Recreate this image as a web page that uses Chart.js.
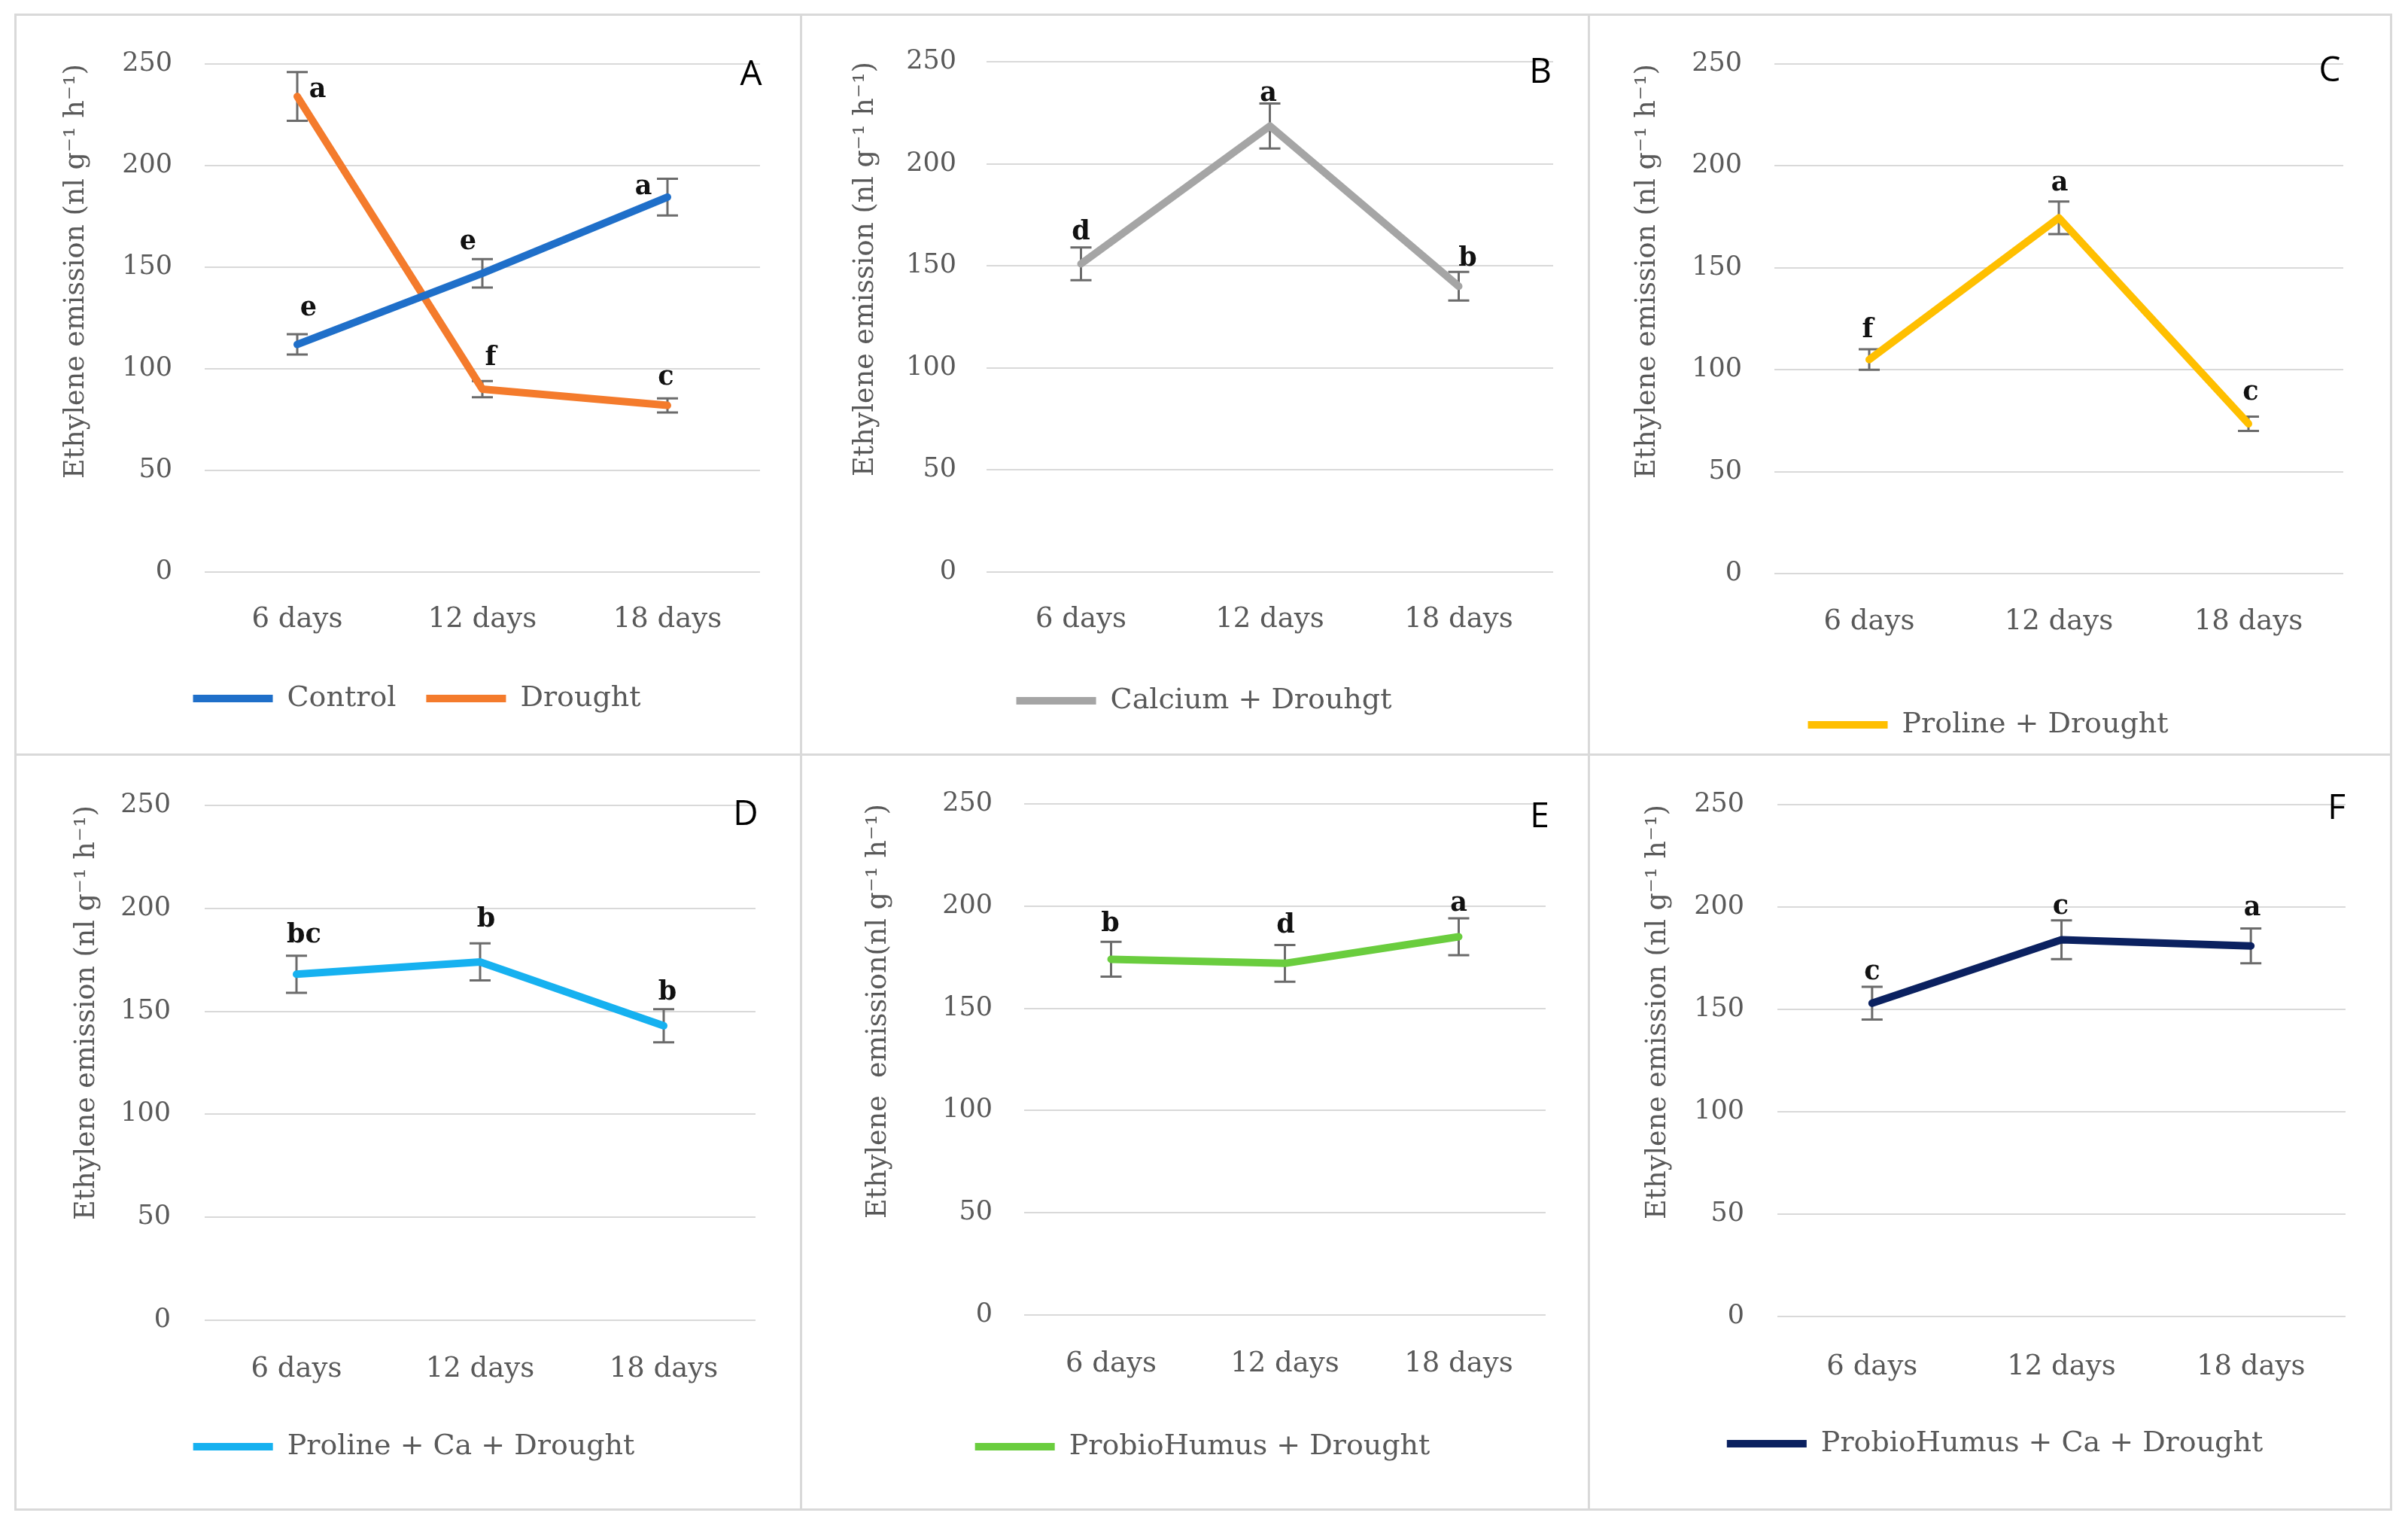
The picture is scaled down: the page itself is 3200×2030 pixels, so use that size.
<!DOCTYPE html>
<html><head><meta charset="utf-8">
<script src="https://cdn.jsdelivr.net/npm/chart.js@4.4.1/dist/chart.umd.min.js"></script>
<style>
html,body{margin:0;padding:0;background:#fff;}
body{width:3200px;height:2030px;position:relative;overflow:hidden;}
canvas{position:absolute;}
.bl{position:absolute;background:#d9d9d9;}
</style></head><body>
<script>
// ---------- data ----------
const categories = ['6 days', '12 days', '18 days'];
const yTickStep = 50;
const yMin = 0;
const yMax = 250;

const controlValues = [112, 147, 184.5];
const controlErrors = [5, 7, 9];
const controlLetters = ['e', 'e', 'a'];

const droughtValues = [234, 90, 82];
const droughtErrors = [12, 4, 3.5];
const droughtLetters = ['a', 'f', 'c'];

const calciumValues = [151, 218.5, 140];
const calciumErrors = [8, 11, 7];
const calciumLetters = ['d', 'a', 'b'];

const prolineValues = [105, 174.5, 73.5];
const prolineErrors = [5, 8, 3.5];
const prolineLetters = ['f', 'a', 'c'];

const prolineCaValues = [168, 174, 143];
const prolineCaErrors = [9, 9, 8];
const prolineCaLetters = ['bc', 'b', 'b'];

const probioValues = [174, 172, 185];
const probioErrors = [8.5, 9, 9];
const probioLetters = ['b', 'd', 'a'];

const probioCaValues = [153, 184, 181];
const probioCaErrors = [8, 9.5, 8.5];
const probioCaLetters = ['c', 'c', 'a'];

const panelLabels = ['A', 'B', 'C', 'D', 'E', 'F'];
const yTitles = [
  'Ethylene emission (nl g\u207B\u00B9 h\u207B\u00B9)',
  'Ethylene emission (nl g\u207B\u00B9 h\u207B\u00B9)',
  'Ethylene emission (nl g\u207B\u00B9 h\u207B\u00B9)',
  'Ethylene emission (nl g\u207B\u00B9 h\u207B\u00B9)',
  'Ethylene  emission(nl g\u207B\u00B9 h\u207B\u00B9)',
  'Ethylene emission (nl g\u207B\u00B9 h\u207B\u00B9)'
];

const panels = [
  [{label: 'Control', values: controlValues, errors: controlErrors, letters: controlLetters, color: '#1f6fc9'},
   {label: 'Drought', values: droughtValues, errors: droughtErrors, letters: droughtLetters, color: '#f47b2c'}],
  [{label: 'Calcium + Drouhgt', values: calciumValues, errors: calciumErrors, letters: calciumLetters, color: '#a5a5a5'}],
  [{label: 'Proline + Drought', values: prolineValues, errors: prolineErrors, letters: prolineLetters, color: '#ffbf00'}],
  [{label: 'Proline + Ca + Drought', values: prolineCaValues, errors: prolineCaErrors, letters: prolineCaLetters, color: '#16b1f0'}],
  [{label: 'ProbioHumus + Drought', values: probioValues, errors: probioErrors, letters: probioLetters, color: '#6acd3e'}],
  [{label: 'ProbioHumus + Ca + Drought', values: probioCaValues, errors: probioCaErrors, letters: probioCaLetters, color: '#0b2160'}]
];

// ---------- layout (page pixels) ----------
const panelLayout = [
  {box: [22, 21, 1041, 980], plot: [272, 76, 1010, 760], legendX: 554, legendY: 928, xLabelY: 823, tickRight: 229, titleX: 102, label: [998, 100],
   letterOffsets: [[[15, -48], [-19, -41], [-32, -13]], [[27, -8], [11, -41], [-2, -37]]]},
  {box: [1066, 21, 1044, 980], plot: [1311, 76, 2064, 760], legendX: 1600, legendY: 931, xLabelY: 823, tickRight: 1271, titleX: 1151, label: [2047, 97],
   letterOffsets: [[[0, -42], [-2, -43], [12, -36]]]},
  {box: [2113, 21, 1062, 980], plot: [2358, 76, 3114, 762], legendX: 2642, legendY: 963, xLabelY: 826, tickRight: 2315, titleX: 2190, label: [3096, 95],
   letterOffsets: [[[-2, -39], [1, -46], [3, -41]]]},
  {box: [22, 1004, 1041, 1000], plot: [272, 1065, 1004, 1754], legendX: 550, legendY: 1922, xLabelY: 1819, tickRight: 227, titleX: 116, label: [991, 1083],
   letterOffsets: [[[10, -51], [8, -56], [5, -44]]]},
  {box: [1066, 1004, 1044, 1000], plot: [1361, 1068, 2054, 1747], legendX: 1598, legendY: 1922, xLabelY: 1812, tickRight: 1319, titleX: 1168, label: [2046, 1086],
   letterOffsets: [[[-1, -47], [1, -50], [0, -44]]]},
  {box: [2113, 1004, 1062, 1000], plot: [2362, 1065, 3117, 1749], legendX: 2651, legendY: 1918, xLabelY: 1816, tickRight: 2318, titleX: 2204, label: [3105, 1075],
   letterOffsets: [[[0, -41], [-1, -44], [2, -50]]]}
];

const SERIF = "'DejaVu Serif', 'Liberation Serif', serif";
const GREY = '#595959';
const Y_TICK_FONT = 35, X_TICK_FONT = 37, LEGEND_FONT = 38, TITLE_FONT = 36.5, LETTER_FONT = 35;
const LEGEND_PAD = 40;
const LINE_WIDTH = 10;

// ---------- borders ----------
function line(x, y, w, h) {
  const d = document.createElement('div');
  d.className = 'bl';
  d.style.left = x + 'px'; d.style.top = y + 'px'; d.style.width = w + 'px'; d.style.height = h + 'px';
  document.body.appendChild(d);
}
[19, 1063, 2110, 3176].forEach(x => line(x, 18, 3, 1988));
[18, 1001, 2004].forEach(y => line(19, y, 3160, 3));

// ---------- plugins ----------
const errorBarPlugin = {
  id: 'errorBars',
  beforeDatasetsDraw(chart) {
    const ctx = chart.ctx, ys = chart.scales.y;
    chart.data.datasets.forEach((ds, di) => {
      const meta = chart.getDatasetMeta(di);
      meta.data.forEach((pt, i) => {
        const v = ds.data[i], e = ds.errors[i];
        const yt = ys.getPixelForValue(v + e), yb = ys.getPixelForValue(v - e);
        const cap = 14;
        ctx.save();
        ctx.strokeStyle = '#6b6b6b';
        ctx.lineWidth = 3;
        ctx.beginPath();
        ctx.moveTo(pt.x, yt); ctx.lineTo(pt.x, yb);
        ctx.moveTo(pt.x - cap, yt); ctx.lineTo(pt.x + cap, yt);
        ctx.moveTo(pt.x - cap, yb); ctx.lineTo(pt.x + cap, yb);
        ctx.stroke();
        ctx.restore();
      });
    });
  }
};

const letterPlugin = {
  id: 'letters',
  afterDatasetsDraw(chart, args, opts) {
    const ctx = chart.ctx;
    chart.data.datasets.forEach((ds, di) => {
      const meta = chart.getDatasetMeta(di);
      meta.data.forEach((pt, i) => {
        const off = opts.offsets[di][i];
        ctx.save();
        ctx.font = 'bold ' + LETTER_FONT + 'px ' + SERIF;
        ctx.fillStyle = '#111';
        ctx.textAlign = 'center';
        ctx.textBaseline = 'middle';
        ctx.fillText(ds.letters[i], pt.x + off[0], pt.y + off[1]);
        ctx.restore();
      });
    });
  }
};

const panelLabelPlugin = {
  id: 'panelLabel',
  afterDraw(chart, args, opts) {
    const ctx = chart.ctx;
    ctx.save();
    ctx.font = "46px 'Open Sans', 'Liberation Sans', sans-serif";
    ctx.fillStyle = '#000';
    ctx.textAlign = 'center';
    ctx.textBaseline = 'middle';
    ctx.fillText(opts.text, opts.x, opts.y);
    ctx.restore();
  }
};

// ---------- charts ----------
Chart.defaults.font.family = SERIF;
Chart.defaults.color = GREY;

panels.forEach((series, pi) => {
  const lay = panelLayout[pi];
  const [cl, ct, cw, ch] = lay.box;
  const [L, T, R, B] = lay.plot;
  const cv = document.createElement('canvas');
  cv.width = cw; cv.height = ch;
  cv.style.left = cl + 'px'; cv.style.top = ct + 'px';
  cv.style.width = cw + 'px'; cv.style.height = ch + 'px';
  document.body.appendChild(cv);

  const itemH = LEGEND_FONT;
  const legendTop = lay.legendY - ct - LEGEND_PAD - itemH / 2;
  const legendH = itemH + LEGEND_PAD + 10;
  const padRight = cl + cw - R;
  const legendRight = cw - padRight;
  const padLeft = Math.max(0, 2 * (lay.legendX - cl) - legendRight);
  const padTop = T - ct;
  const padBottom = ch - (legendTop + legendH);
  const yWidth = L - cl - padLeft;
  const xHeight = legendTop - (B - ct);
  const titleLH = TITLE_FONT * 1.2;
  const titlePad = (lay.titleX - cl - padLeft) - titleLH / 2;
  const xTickPad = lay.xLabelY - B - X_TICK_FONT * 1.2 / 2;

  new Chart(cv, {
    type: 'line',
    data: {
      labels: categories,
      datasets: series.map(s => ({
        label: s.label,
        data: s.values,
        errors: s.errors,
        letters: s.letters,
        borderColor: s.color,
        backgroundColor: s.color,
        borderWidth: LINE_WIDTH,
        borderCapStyle: 'round',
        borderJoinStyle: 'round',
        pointRadius: 0,
        pointHoverRadius: 0,
        tension: 0,
        fill: false
      }))
    },
    options: {
      responsive: false,
      animation: false,
      devicePixelRatio: 1,
      layout: {padding: {left: padLeft, right: padRight, top: padTop, bottom: padBottom}},
      scales: {
        x: {
          offset: true,
          grid: {display: false, drawTicks: false},
          border: {display: false},
          ticks: {color: GREY, font: {size: X_TICK_FONT}, padding: xTickPad, maxRotation: 0},
          afterFit(s) { s.height = xHeight; }
        },
        y: {
          min: yMin, max: yMax,
          grid: {color: '#d9d9d9', lineWidth: 2, drawTicks: false},
          border: {display: false},
          ticks: {stepSize: yTickStep, color: GREY, font: {size: Y_TICK_FONT}, padding: L - lay.tickRight},
          title: {display: true, text: yTitles[pi], color: GREY, font: {size: TITLE_FONT, lineHeight: 1.2}, align: 'end', padding: {top: titlePad, bottom: 0}},
          afterFit(s) { s.width = yWidth; }
        }
      },
      plugins: {
        legend: {
          position: 'bottom',
          labels: {
            usePointStyle: true, pointStyle: 'line', pointStyleWidth: 106,
            color: GREY, font: {size: LEGEND_FONT}, padding: LEGEND_PAD
          }
        },
        tooltip: {enabled: false},
        letters: {offsets: lay.letterOffsets},
        panelLabel: {text: panelLabels[pi], x: lay.label[0] - cl, y: lay.label[1] - ct}
      }
    },
    plugins: [errorBarPlugin, letterPlugin, panelLabelPlugin]
  });
});
</script>
</body></html>
